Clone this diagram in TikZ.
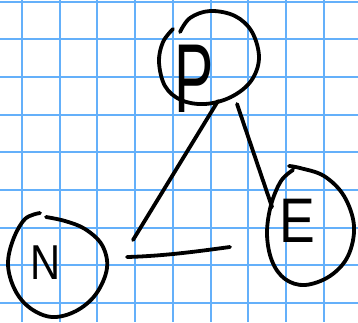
\documentclass[tikz,border=0pt]{standalone}
\usepackage{fontspec}
\setmainfont{Liberation Sans}
\definecolor{gridblue}{RGB}{100,176,250}
\tikzset{
  ink/.style={line width=3.8pt, line cap=round, line join=round, black},
  gridline/.style={line width=2pt, gridblue},
  letter/.style={inner sep=0pt, anchor=center, text=black}
}
\begin{document}
\begin{tikzpicture}[x=1pt,y=-1pt]
\fill[white] (0,0) rectangle (358,322);
\useasboundingbox (0,0) rectangle (358,322);
% grid
\foreach \i in {0,...,8} {
  \draw[gridline] ({22+37.7*\i},0) -- ({22+37.7*\i},322);
}
\foreach \j in {0,...,8} {
  \draw[gridline] (0,{1.5+37.7*\j}) -- (358,{1.5+37.7*\j});
}
% letters
\node[letter] (P) at (194,79) {\fontsize{98}{98}\selectfont\scalebox{0.6}[1]{P}};
\node[letter] (E) at (297,221) {\fontsize{63}{63}\selectfont\scalebox{0.85}[1]{E}};
\node[letter] (N) at (46,263) {\fontsize{49}{49}\selectfont\scalebox{0.85}[1]{N}};
% outlines
\draw[ink] plot[smooth, tension=0.6] coordinates {
  (180,32) (190,18) (210,11) (235,16) (252,32) (259,58) (251,81) (231,97) (205,104) (181,100) (165,86) (159,62) (163,42) (173,29)};
\draw[ink] plot[smooth, tension=0.6] coordinates {
  (289,166) (300,168) (324,176) (344,196) (354,226) (348,256) (330,276) (305,285) (285,279) (272,261) (267,234) (271,205) (281,181) (293,170)};
\draw[ink] plot[smooth, tension=0.6] coordinates {
  (40,213) (25,219) (13,240) (8,265) (15,290) (30,308) (52,317) (76,311) (96,294) (107,268) (102,245) (85,229) (65,221) (46,217)};
% connectors
\coordinate (pn1) at (218,101);
\coordinate (pn2) at (133,240);
\coordinate (pe1) at (237,104);
\coordinate (pe2) at (272,207);
\coordinate (ne1) at (127,257);
\coordinate (ne2) at (230,247);
\draw[ink] (pn1) -- (pn2);
\draw[ink] (pe1) -- (pe2);
\draw[ink] (ne1) .. controls (165,256) and (200,251) .. (ne2);
\end{tikzpicture}
\end{document}
